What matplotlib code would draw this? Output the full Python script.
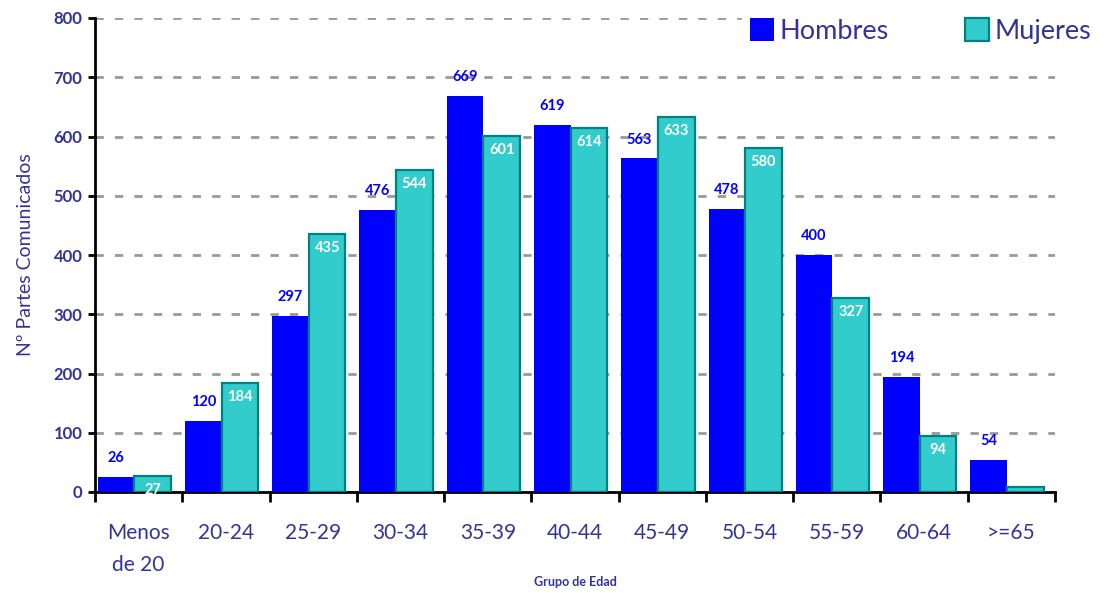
import numpy as np
import matplotlib.pyplot as plt
from matplotlib.patches import Patch

# Data
grupos = ["Menos\nde 20", "20-24", "25-29", "30-34", "35-39", "40-44",
          "45-49", "50-54", "55-59", "60-64", ">=65"]
hombres = [26, 120, 297, 476, 669, 619, 563, 478, 400, 194, 54]
mujeres = [27, 184, 435, 544, 601, 614, 633, 580, 327, 94, 9]

txt = "#333399"
azul = "#0000FF"
turq = "#33CCCC"
borde = "#008080"

plt.rcParams['font.family'] = ['Lato', 'DejaVu Sans']

fig = plt.figure(figsize=(11.05, 5.93), dpi=100)
ax = fig.add_axes([95 / 1105, 1 - 492 / 593, (1055 - 95) / 1105, (492 - 18) / 593])

x = np.arange(len(grupos))
w = 0.42
off = -0.05
bh = ax.bar(x + off - w / 2, hombres, w, color=azul, edgecolor="none", zorder=3)
bm = ax.bar(x + off + w / 2, mujeres, w, color=turq, edgecolor=borde, linewidth=1.6, zorder=3)

# value labels
for rect, v in zip(bh, hombres):
    ax.text(rect.get_x() + rect.get_width() / 2, v + 20, str(v), ha="center", va="bottom",
            color=azul, fontsize=10.5, fontweight="bold", zorder=4)
for rect, v in zip(bm, mujeres):
    if v < 20:
        continue
    ax.text(rect.get_x() + rect.get_width() / 2, v - 12, str(v), ha="center", va="top",
            color="white", fontsize=10.5, fontweight="bold", zorder=4)

ax.set_xlim(-0.5, len(grupos) - 0.5)
ax.set_ylim(0, 800)
ax.set_yticks(range(0, 801, 100))
ax.yaxis.grid(True, linestyle=(0, (3, 4)), color="#999999", linewidth=2, zorder=0)

# x ticks at group boundaries, labels at centres
ax.set_xticks(np.arange(-0.5, len(grupos), 1))
ax.set_xticklabels([])
ax.set_xticks(x, minor=True)
ax.set_xticklabels(grupos, minor=True, fontsize=15, color=txt, linespacing=1.75, va="top")
ax.tick_params(axis="x", which="minor", length=0, pad=22)
ax.tick_params(axis="x", which="major", direction="out", length=7, width=2)
ax.tick_params(axis="y", direction="out", length=5, width=2, labelsize=12, labelcolor=txt, pad=4)
for lab in ax.get_yticklabels():
    lab.set_fontweight("bold")

for s in ["top", "right"]:
    ax.spines[s].set_visible(False)
for s in ["left", "bottom"]:
    ax.spines[s].set_linewidth(2)

ax.set_ylabel("Nº Partes Comunicados", fontsize=14, color=txt, labelpad=14)
ax.text(0.5, -0.19, "Grupo de Edad", transform=ax.transAxes, ha="center", va="center",
        fontsize=9, color=txt, fontweight="bold")

handles = [Patch(facecolor=azul, edgecolor="none", label="Hombres"),
           Patch(facecolor=turq, edgecolor=borde, linewidth=1.6, label="Mujeres")]
leg = fig.legend(handles=handles, loc="upper right", bbox_to_anchor=(1.0, 0.992),
                 ncol=2, frameon=True, fontsize=19.5, labelcolor=txt, handlelength=0.9,
                 handleheight=0.9, handletextpad=0.2, columnspacing=2.8, borderpad=0.3,
                 borderaxespad=0.2)
leg.get_frame().set_edgecolor("white")
leg.get_frame().set_facecolor("white")
leg.get_frame().set_alpha(1)
leg.set_zorder(10)

fig.savefig("out.png", dpi=100)
